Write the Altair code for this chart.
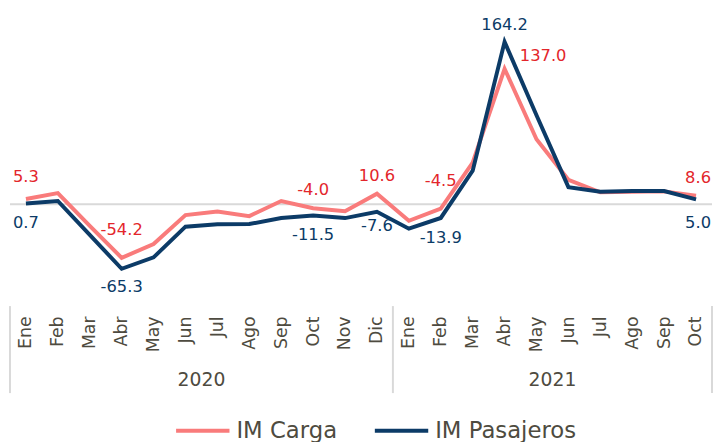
import json
import altair as alt
import pandas as pd

months = ["Ene", "Feb", "Mar", "Abr", "May", "Jun", "Jul", "Ago", "Sep", "Oct", "Nov", "Dic",
          "Ene", "Feb", "Mar", "Abr", "May", "Jun", "Jul", "Ago", "Sep", "Oct"]
years = ["2020", "2021"]
months_per_year = [12, 10]
carga = [5.3, 11.3, -22.0, -54.2, -40.3, -11.0, -7.3, -12.0, 3.3, -4.0, -7.0, 10.6,
         -16.7, -4.5, 42.0, 137.0, 65.7, 24.7, 12.0, 12.7, 13.0, 8.6]
pasajeros = [0.7, 3.3, -31.0, -65.3, -53.7, -22.7, -20.3, -20.0, -14.0, -11.5, -14.0, -7.6,
             -24.7, -13.9, 34.0, 164.2, 90.0, 17.3, 12.7, 13.3, 13.3, 5.0]
series = ["IM Carga", "IM Pasajeros"]

FONT = "DejaVu Sans"
LINE_COLORS = ["#F97B7B", "#0C3B67"]
LABEL_COLORS = ["#E3262B", "#0C3B67"]
AXIS_TXT = "#4E4B40"

n = len(months)
rows = []
for i in range(n):
    rows.append({"i": i, "serie": series[0], "v": carga[i]})
    rows.append({"i": i, "serie": series[1], "v": pasajeros[i]})
df = pd.DataFrame(rows)

# group boundaries and centres
bounds = [-0.5]
centers = []
acc = -0.5
for c in months_per_year:
    centers.append(acc + c / 2)
    acc += c
    bounds.append(acc)
sep_df = pd.DataFrame({"b": bounds})
year_df = pd.DataFrame({"c": centers, "year": years})

xscale = alt.Scale(domain=[-0.5, n - 0.5], nice=False, zero=False)
yscale = alt.Scale(domain=[-100, 196], nice=False, zero=False)

xaxis = alt.Axis(values=list(range(n)), labelExpr=json.dumps(months) + "[datum.value]",
                 labelAngle=270, labelAlign="right", labelBaseline="middle", labelPadding=13,
                 domain=False, ticks=False, grid=False, title=None, labelFontSize=17.5,
                 labelColor=AXIS_TXT, labelFont=FONT, labelOverlap=False, labelFlush=False,
                 labelBound=False)

zero = alt.Chart(pd.DataFrame({"z": [0]})).mark_rule(color="#D9D9D9", strokeWidth=2).encode(
    y=alt.Y("z:Q", scale=yscale, axis=None))

seps = alt.Chart(sep_df).mark_rule(color="#D9D9D9", strokeWidth=2).encode(
    x=alt.X("b:Q", scale=xscale, axis=xaxis),
    y=alt.value(299), y2=alt.value(387))

year_txt = alt.Chart(year_df).mark_text(font=FONT, fontSize=19, color=AXIS_TXT, baseline="middle").encode(
    x=alt.X("c:Q", scale=xscale, axis=xaxis),
    y=alt.value(374),
    text="year:N")

lines = alt.Chart(df).mark_line(strokeWidth=4, strokeJoin="miter").encode(
    x=alt.X("i:Q", scale=xscale, axis=xaxis),
    y=alt.Y("v:Q", scale=yscale, axis=None),
    color=alt.Color("serie:N", scale=alt.Scale(domain=series, range=LINE_COLORS),
                    legend=alt.Legend(orient="none", legendX=166, legendY=396, direction="horizontal",
                                      title=None, symbolType="stroke", symbolStrokeWidth=4,
                                      symbolSize=2916, labelFontSize=23, labelColor=AXIS_TXT,
                                      labelFont=FONT, columnPadding=30, labelOffset=5, padding=0)),
    order=alt.Order("i:Q"),
)


def labels(serie_idx, idxs, dx, dy):
    d = df[(df.serie == series[serie_idx]) & (df.i.isin(idxs))]
    return alt.Chart(d).transform_calculate(
        t="replace(format(datum.v, '.1f'), '\u2212', '-')"
    ).mark_text(font=FONT, fontSize=16.5, color=LABEL_COLORS[serie_idx],
                dx=dx, dy=dy, baseline="middle", align="center").encode(
        x=alt.X("i:Q", scale=xscale, axis=xaxis),
        y=alt.Y("v:Q", scale=yscale, axis=None),
        text="t:N")


lab_layers = [
    labels(0, [9, 11], 0, -18),
    labels(0, [21], 2, -18),
    labels(0, [0], 0, -22),
    labels(0, [3, 13], 0, -28),
    labels(0, [15], 39, -13),
    labels(1, [0, 9, 13], 0, 20),
    labels(1, [3], 0, 18),
    labels(1, [11], 0, 14),
    labels(1, [21], 2, 24),
    labels(1, [15], 0, -17),
]

chart = alt.layer(zero, seps, year_txt, lines, *lab_layers).properties(
    width=710, height=296,
    autosize=alt.AutoSizeParams(type="none"),
    padding={"left": 2, "right": 1, "top": 0, "bottom": 138},
    background="white",
).configure_view(stroke=None)

chart.save("out.html", embed_options={"renderer": "svg", "actions": False})
